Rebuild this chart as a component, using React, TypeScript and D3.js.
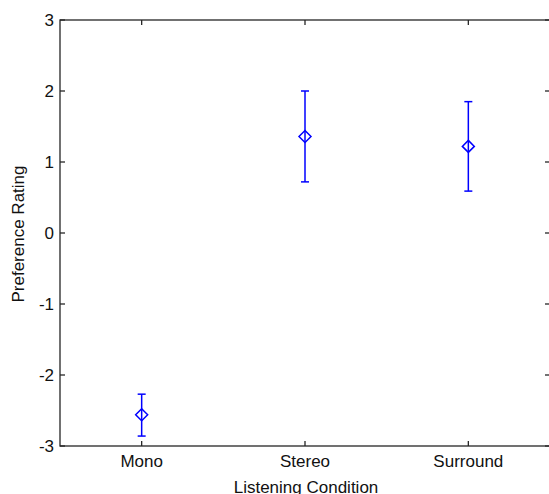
import React, { useEffect, useRef } from 'react';
import * as d3 from 'd3';

const conditions = ['Mono', 'Stereo', 'Surround'];
const means = [-2.56, 1.36, 1.22];
const upper = [-2.27, 2.0, 1.85];
const lower = [-2.86, 0.72, 0.59];
const yTicks = [-3, -2, -1, 0, 1, 2, 3];

const width = 549;
const height = 494;
const margin = { top: 20, right: -1, bottom: 48, left: 60 };

const App = () => {
    const svgRef = useRef<SVGSVGElement>(null);

    useEffect(() => {
        const svg = d3.select(svgRef.current);
        svg.selectAll('*').remove();

        const innerWidth = width - margin.left - margin.right;
        const innerHeight = height - margin.top - margin.bottom;

        const xScale = d3.scaleLinear()
            .domain([0.5, 3.5])
            .range([margin.left, margin.left + innerWidth]);
        const yScale = d3.scaleLinear()
            .domain([-3, 3])
            .range([margin.top + innerHeight, margin.top]);

        const axisColor = '#262626';
        const font = 'Arial, "Liberation Sans", Helvetica, sans-serif';
        const fontSize = '17px';
        const x0 = xScale(0.5), x1 = xScale(3.5);
        const y0 = yScale(-3), y1 = yScale(3);

        // plot box
        svg.append('rect')
            .attr('x', x0).attr('y', y1)
            .attr('width', x1 - x0).attr('height', y0 - y1)
            .attr('fill', 'white')
            .attr('stroke', axisColor)
            .attr('stroke-width', 1.3);

        // y ticks, both sides, pointing inward
        yTicks.forEach(t => {
            const y = yScale(t);
            svg.append('line').attr('x1', x0).attr('x2', x0 + 5).attr('y1', y).attr('y2', y)
                .attr('stroke', axisColor).attr('stroke-width', 1.3);
            svg.append('line').attr('x1', x1).attr('x2', x1 - 5).attr('y1', y).attr('y2', y)
                .attr('stroke', axisColor).attr('stroke-width', 1.3);
            svg.append('text')
                .attr('x', x0 - 6).attr('y', y)
                .attr('dy', '0.36em')
                .attr('text-anchor', 'end')
                .style('font-family', font).style('font-size', fontSize)
                .attr('fill', '#111')
                .text(t);
        });

        // x ticks, bottom and top
        conditions.forEach((c, i) => {
            const x = xScale(i + 1);
            svg.append('line').attr('x1', x).attr('x2', x).attr('y1', y0).attr('y2', y0 - 5)
                .attr('stroke', axisColor).attr('stroke-width', 1.3);
            svg.append('line').attr('x1', x).attr('x2', x).attr('y1', y1).attr('y2', y1 + 5)
                .attr('stroke', axisColor).attr('stroke-width', 1.3);
            svg.append('text')
                .attr('x', x).attr('y', y0 + 21)
                .attr('text-anchor', 'middle')
                .style('font-family', font).style('font-size', fontSize)
                .attr('fill', '#111')
                .text(c);
        });

        // axis labels
        svg.append('text')
            .attr('x', (x0 + x1) / 2 + 1).attr('y', y0 + 47)
            .attr('text-anchor', 'middle')
            .style('font-family', font).style('font-size', fontSize)
            .attr('fill', '#111')
            .text('Listening Condition');

        svg.append('text')
            .attr('transform', `translate(24, ${(y0 + y1) / 2 + 1}) rotate(-90)`)
            .attr('text-anchor', 'middle')
            .style('font-family', font).style('font-size', fontSize)
            .attr('fill', '#111')
            .text('Preference Rating');

        // error bars
        const blue = '#0000ff';
        means.forEach((m, i) => {
            const x = xScale(i + 1);
            const g = svg.append('g').attr('stroke', blue).attr('stroke-width', 1.5).attr('fill', 'none');
            g.append('line').attr('x1', x).attr('x2', x).attr('y1', yScale(lower[i])).attr('y2', yScale(upper[i]));
            g.append('line').attr('x1', x - 4).attr('x2', x + 4).attr('y1', yScale(lower[i])).attr('y2', yScale(lower[i]));
            g.append('line').attr('x1', x - 4).attr('x2', x + 4).attr('y1', yScale(upper[i])).attr('y2', yScale(upper[i]));
            const ym = yScale(m);
            g.append('path')
                .attr('d', `M${x},${ym - 6}L${x + 6},${ym}L${x},${ym + 6}L${x - 6},${ym}Z`);
        });
    }, []);

    return (
        <svg ref={svgRef} width={width} height={height} style={{ position: 'absolute', left: 0, top: 0 }} />
    );
};

export default App;
